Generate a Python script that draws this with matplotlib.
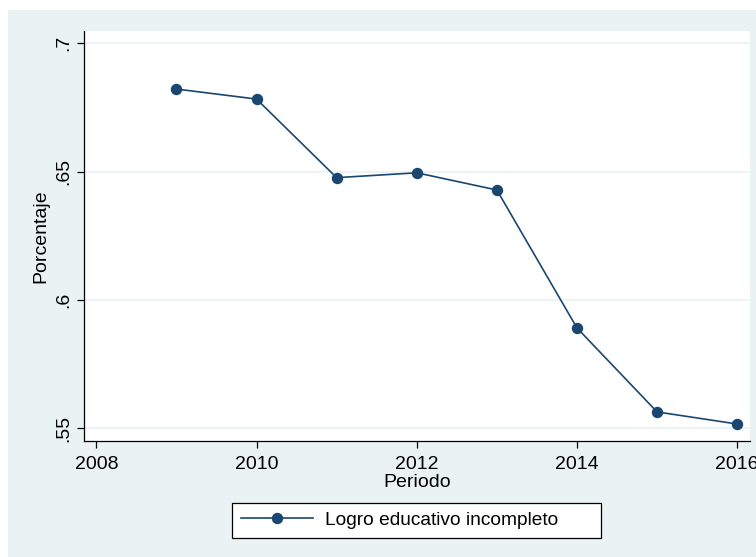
import matplotlib
matplotlib.use("Agg")
import matplotlib.pyplot as plt
from matplotlib.patches import Rectangle

years = [2009, 2010, 2011, 2012, 2013, 2014, 2015, 2016]
values = [0.6821, 0.6782, 0.6476, 0.6495, 0.6428, 0.5891, 0.5564, 0.5517]
series_label = "Logro educativo incompleto"
xticks = [2008, 2010, 2012, 2014, 2016]
yticks = [0.55, 0.6, 0.65, 0.7]
ytick_labels = [".55", ".6", ".65", ".7"]

plt.rcParams['font.family'] = ['Liberation Sans', 'DejaVu Sans']
W, H = 756, 557
fig = plt.figure(figsize=(W / 100, H / 100), dpi=100)
fig.patch.set_facecolor('white')
bg = '#EAF2F3'
fig.patches.append(Rectangle((8 / W, 0), 1 - 8 / W, 1 - 10 / H, transform=fig.transFigure,
                             facecolor=bg, edgecolor='none', zorder=-10))

ax = fig.add_axes([83.5 / W, (H - 440.7) / H, (750 - 83.5) / W, (440.7 - 31) / H])
ax.set_zorder(1)
ax.set_facecolor('white')
navy = '#1A476F'
ax.plot(years, values, color=navy, lw=1.2, marker='o', markersize=7.2,
        label=series_label, zorder=3)

ax.set_xlim(2007.84, 2016.16)
ax.set_ylim(0.5452, 0.7047)
ax.set_xticks(xticks)
ax.set_xticklabels([str(x) for x in xticks])
ax.set_yticks(yticks)
ax.set_yticklabels(ytick_labels, rotation=90, va='center')
ax.grid(axis='y', color='#EAF2F3', lw=1.2, zorder=0)
ax.grid(axis='x', visible=False)
for s in ['top', 'right']:
    ax.spines[s].set_visible(False)
for s in ['left', 'bottom']:
    ax.spines[s].set_color('black')
    ax.spines[s].set_linewidth(0.9)
ax.tick_params(axis='both', direction='out', length=5, width=0.9, labelsize=14, color='black')
ax.tick_params(axis='x', pad=6)
ax.tick_params(axis='y', pad=3)
ax.set_xlabel('Periodo', fontsize=14, labelpad=1)
ax.set_ylabel('Porcentaje', fontsize=14, labelpad=4)

leg = fig.legend(loc='center', bbox_to_anchor=(232 / W, 1 - 538 / H, 369 / W, 35 / H),
                 mode='expand', fontsize=13.8,
                 frameon=True, fancybox=False, edgecolor='black', framealpha=1,
                 handlelength=3.8, handletextpad=0.6, borderpad=0.45, borderaxespad=0)
leg.get_frame().set_linewidth(0.9)
leg.set_zorder(2)

fig.savefig('out.png', dpi=100, facecolor=fig.get_facecolor())
